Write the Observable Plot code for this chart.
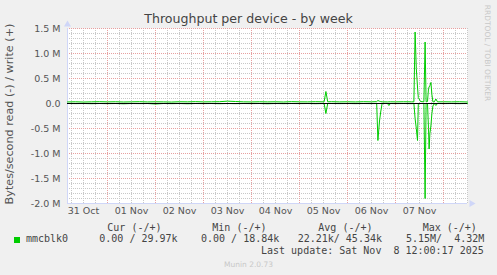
<!DOCTYPE html>
<html><head><meta charset="utf-8">
<script src="https://cdn.jsdelivr.net/npm/d3@7"></script>
<script src="https://cdn.jsdelivr.net/npm/@observablehq/plot@0.6"></script>
<style>
html,body{margin:0;padding:0;background:#f0f0f0;}
#wrap{position:relative;width:497px;height:275px;overflow:hidden;font-family:"DejaVu Sans",sans-serif;}
#chart{position:absolute;left:0;top:0;}
.t{position:absolute;white-space:pre;}
.mono{font-family:"DejaVu Sans Mono",monospace;font-size:10px;line-height:10px;color:#444;}
</style></head><body><div id="wrap">
<div id="chart"></div>
<div class="t" id="title" style="left:0;width:497px;text-align:center;top:12.6px;font-size:12.6px;line-height:12.6px;color:#444;"></div>
<div class="t" id="ylab" style="left:10px;top:114px;font-size:11.2px;line-height:11.2px;color:#555;transform:translate(-50%,-50%) rotate(-90deg);"></div>
<div class="t" id="rrd" style="left:486.7px;top:53.3px;font-size:7.5px;line-height:7.5px;color:#c8c8c8;transform:translate(-50%,-50%) rotate(90deg);"></div>
<div id="legend"></div>
<div class="t" id="munin" style="left:0;width:497px;text-align:center;top:260.6px;font-size:7.5px;line-height:7.5px;color:#c8c8c8;"></div>
</div>
<script>
const titleText = "Throughput per device - by week";
const yLabelText = "Bytes/second read (-) / write (+)";
const sideText = "RRDTOOL / TOBI OETIKER";
const muninText = "Munin 2.0.73";
const startUTC = "2025-10-31T04:00:00Z";
const endUTC = "2025-11-08T12:00:00Z";

// hours after start
const hoursOffset = [0,4,8,12,16,20,24,28,32,36,40,44,48,52,56,60,64,68,72,76,80,84,88,92,96,100,104,108,112,116,120,124,
  128.3,129.2,130.1,132,136,140,144,148,152,154.6,155.2,156,156.6,157.3,160,160.7,161.4,164,168,172,
  173.2,173.8,174.4,175,175.4,176.5,178.2,178.8,179.3,180,180.5,180.8,181.2,181.7,182.2,182.7,183.4,184.2,185,
  188,192,196,200];
// write (+), kB/s
const writeK = [31,34,29,33,36,32,35,30,33,36,31,34,32,29,35,33,37,32,34,36,47,40,33,31,35,32,34,30,37,33,32,36,
  33,240,34,36,32,34,31,36,33,37,60,45,38,33,31,33,34,32,35,33,
  33,1430,700,330,120,40,33,1230,33,40,300,330,360,420,180,33,33,90,33,
  34,32,35,30];
// read (-), kB/s
const readK = [0,2,0,4,0,3,0,6,0,2,0,10,0,3,0,5,0,2,0,4,0,3,0,2,0,5,0,3,0,2,0,4,
  0,200,0,0,2,0,3,0,2,0,740,350,170,0,0,40,0,2,0,3,
  0,300,500,740,0,0,0,1900,0,0,500,910,600,450,200,50,0,40,0,
  2,0,3,0];

const xTickDates = ["2025-10-31T12:00:00Z","2025-11-01T12:00:00Z","2025-11-02T12:00:00Z","2025-11-03T12:00:00Z","2025-11-04T12:00:00Z","2025-11-05T12:00:00Z","2025-11-06T12:00:00Z","2025-11-07T12:00:00Z"];
const xTickLabels = ["31 Oct","01 Nov","02 Nov","03 Nov","04 Nov","05 Nov","06 Nov","07 Nov"];
const yTicks = [-2e6,-1.5e6,-1e6,-0.5e6,0,0.5e6,1e6,1.5e6];
const yTickLabels = ["-2.0 M","-1.5 M","-1.0 M","-0.5 M","0.0","0.5 M","1.0 M","1.5 M"];

const legendName = "mmcblk0";
const legendHeaders = ["Cur (-/+)","Min (-/+)","Avg (-/+)","Max (-/+)"];
const legendValues = ["0.00 / 29.97k","0.00 / 18.84k","22.21k/ 45.34k","5.15M/  4.32M"];
const lastUpdate = "Last update: Sat Nov  8 12:00:17 2025";
const lineColor = "#00cc00";

document.getElementById("title").textContent = titleText;
document.getElementById("ylab").textContent = yLabelText;
document.getElementById("rrd").textContent = sideText;
document.getElementById("munin").textContent = muninText;

const t0 = new Date(startUTC), t1 = new Date(endUTC);
const rows = hoursOffset.map((h, i) => ({t: new Date(+t0 + h * 3600e3), w: writeK[i] * 1000, r: -readK[i] * 1000}));
const xTicks = xTickDates.map(s => new Date(s));
const xLab = new Map(xTicks.map((d, i) => [+d, xTickLabels[i]]));
const yLab = new Map(yTicks.map((d, i) => [d, yTickLabels[i]]));

const minorV = d3.utcHour.every(6).range(t0, new Date(+t1 + 1)).filter(d => d.getUTCHours() !== 0);
const majorV = d3.utcDay.range(t0, t1);
const minorH = d3.range(-20, 16).filter(i => i % 5 !== 0).map(i => i * 1e5);
const majorH = d3.range(-4, 4).map(i => i * 5e5);
const axisColor = "#cfd6f8";

const chart = Plot.plot({
  width: 497, height: 222,
  marginTop: 28, marginBottom: 19, marginLeft: 67, marginRight: 30,
  style: {fontFamily: "DejaVu Sans", fontSize: "9.5px", color: "#555", background: "transparent", overflow: "visible"},
  x: {type: "utc", domain: [t0, t1], ticks: xTicks, tickFormat: d => xLab.get(+d) ?? "", tickSize: 0, tickPadding: 4, label: null},
  y: {domain: [-2e6, 1.5e6], ticks: yTicks, tickFormat: d => yLab.get(d) ?? "", tickSize: 0, tickPadding: 7, label: null},
  marks: [
    Plot.frame({fill: "white", stroke: "none"}),
    Plot.ruleY(minorH, {stroke: "#c8c8c8", strokeDasharray: "1,1"}),
    Plot.ruleX(minorV, {stroke: "#c8c8c8", strokeDasharray: "1,1"}),
    Plot.ruleY(majorH, {stroke: "#e8a0a0", strokeDasharray: "1,1"}),
    Plot.ruleX(majorV, {stroke: "#e8a0a0", strokeDasharray: "1,1"}),
    Plot.ruleX([t0], {stroke: axisColor}),
    Plot.ruleY([-2e6], {stroke: axisColor}),
    Plot.dot([0], {frameAnchor: "top-left", dy: -4, symbol: "triangle", r: 2.6, fill: axisColor, stroke: "none"}),
    Plot.dot([0], {frameAnchor: "bottom-right", dx: 4, symbol: "triangle", rotate: 90, r: 2.6, fill: axisColor, stroke: "none"}),
    Plot.line(rows, {x: "t", y: "r", stroke: lineColor, strokeWidth: 1}),
    Plot.line(rows, {x: "t", y: "w", stroke: lineColor, strokeWidth: 1}),
    Plot.ruleY([0], {stroke: "#000", strokeWidth: 1})
  ]
});
document.getElementById("chart").appendChild(chart);

// legend
const lg = document.getElementById("legend");
function addText(txt, left, top, cls) {
  const d = document.createElement("div");
  d.className = "t " + cls;
  d.style.left = left + "px"; d.style.top = top + "px";
  d.textContent = txt; lg.appendChild(d);
}
const sw = document.createElement("div");
sw.style.cssText = `position:absolute;left:14px;top:237px;width:6px;height:6px;background:${lineColor};`;
lg.appendChild(sw);
addText(legendName, 26, 234.2, "mono");
[107.3, 212.3, 318.3, 422.7].forEach((x, i) => addText(legendHeaders[i], x, 222.5, "mono"));
[99.3, 201, 297.7, 406].forEach((x, i) => addText(legendValues[i], x, 234.2, "mono"));
addText(lastUpdate, 261, 245.8, "mono");
</script>
</body></html>
